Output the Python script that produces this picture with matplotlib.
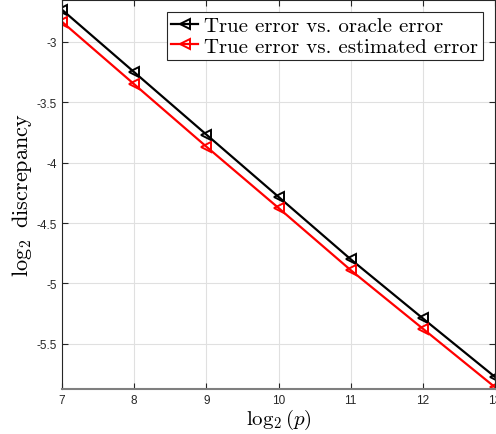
import matplotlib
matplotlib.use("Agg")
import matplotlib.pyplot as plt

plt.rcParams['mathtext.fontset'] = 'cm'

x = [7, 8, 9, 10, 11, 12, 13]
oracle = [-2.733, -3.25, -3.767, -4.283, -4.80, -5.29, -5.775]
estimated = [-2.833, -3.35, -3.867, -4.375, -4.89, -5.375, -5.86]
labels = ["True error vs. oracle error", "True error vs. estimated error"]

fig = plt.figure(figsize=(4.96, 4.35), dpi=100)
ax = fig.add_axes([0.125, 0.1034, 0.873, 0.895])

ax.plot(x, oracle, color='black', lw=1.6, marker='<', ms=6.5, mfc='none', mew=1.4, label=labels[0])
ax.plot(x, estimated, color='red', lw=1.6, marker='<', ms=6.5, mfc='none', mew=1.4, label=labels[1])

ax.set_xlim(7, 13)
ax.set_ylim(-5.875, -2.65)
ax.set_xticks(x)
ax.set_yticks([-5.5, -5, -4.5, -4, -3.5, -3])
ax.set_yticklabels(['-5.5', '-5', '-4.5', '-4', '-3.5', '-3'])
ax.grid(True, color='#e0e0e0', lw=0.8)
ax.set_axisbelow(True)
ax.tick_params(direction='in', top=True, right=True, labelsize=8.5, colors='#262626', length=4)
for tl in ax.get_xticklabels() + ax.get_yticklabels():
    tl.set_family('Liberation Sans')
for s in ax.spines.values():
    s.set_color('#262626')
    s.set_linewidth(0.8)
ax.spines['bottom'].set_color('#7f7f7f')
ax.spines['bottom'].set_linewidth(1.5)

ax.set_xlabel(r'$\log_2(p)$', fontsize=15, labelpad=1)
ax.set_ylabel(r'$\log_2$ discrepancy', fontsize=16, family='cmr10', labelpad=2)

leg = ax.legend(loc='upper right', prop={'family': 'cmr10', 'size': 15}, fancybox=False,
                edgecolor='#262626', framealpha=1, handlelength=1.3, handletextpad=0.3,
                borderpad=0.2, labelspacing=0.1, borderaxespad=0.6)
leg.get_frame().set_linewidth(0.8)

fig.savefig('out.png', dpi=100)
